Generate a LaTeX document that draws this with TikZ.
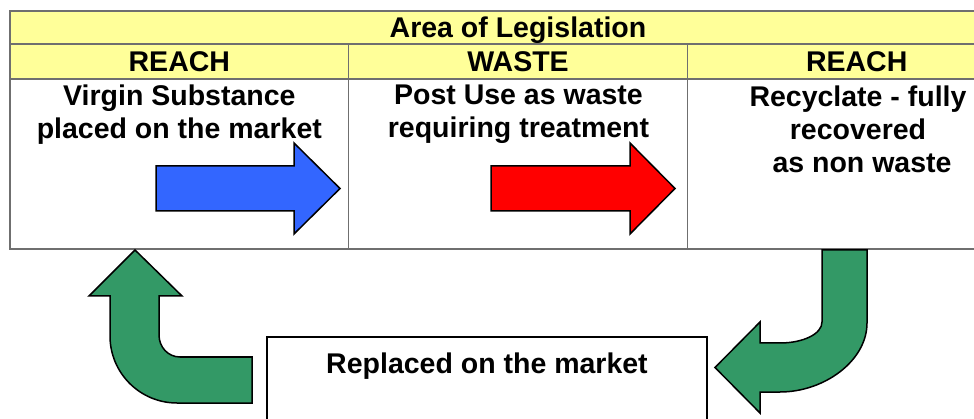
\documentclass[tikz,border=0pt]{standalone}
\usepackage{fontspec}
\setmainfont{Liberation Sans}
\definecolor{legyellow}{HTML}{FFFF99}
\definecolor{reachblue}{HTML}{3366FF}
\definecolor{wastered}{HTML}{FF0000}
\definecolor{loopgreen}{HTML}{339966}
\definecolor{rulegray}{HTML}{6F6F6F}
\tikzset{
  cell/.style={draw=rulegray, line width=1.2pt, rectangle, inner sep=0pt},
  head/.style={cell, fill=legyellow, text height=20.4pt, text depth=0pt, font=\bfseries\fontsize{28.5}{33}\selectfont},
  body/.style={align=center, inner sep=0pt, anchor=north, font=\bfseries\fontsize{28.5}{33}\selectfont},
  blockarrow/.style={draw=black, line width=1.5pt, line join=miter}
}
\begin{document}
\begin{tikzpicture}[x=1pt, y=-1pt]
\clip (0,0) rectangle (974,419);
\node at (518,27.5) [head, minimum width=1016pt, minimum height=33pt] (area) {Area of Legislation};
\node at (179.33,61.5) [head, minimum width=338.67pt, minimum height=35pt] (reachA) {REACH};
\node at (518,61.5) [head, minimum width=338.67pt, minimum height=35pt] (waste) {WASTE};
\node at (856.67,61.5) [head, minimum width=338.67pt, minimum height=35pt] (reachB) {REACH};
\node at (179.33,164) [cell, minimum width=338.67pt, minimum height=170pt] (virgin) {};
\node at (518,164) [cell, minimum width=338.67pt, minimum height=170pt] (postuse) {};
\node at (856.67,164) [cell, minimum width=338.67pt, minimum height=170pt] (recyc) {};
\node at (179.33,84.6) [body] (virgintxt) {Virgin Substance\\placed on the market};
\node at (518.5,84.6) [body] (postusetxt) {Post Use as waste\\requiring treatment};
\node at (858,85.6) [body] (recyctxt) {Recyclate - fully\\recovered\\\hspace*{8pt}as non waste};
\filldraw[blockarrow, fill=reachblue] (156,166) -- (294,166) -- (294,143) -- (340,188.5) -- (294,234) -- (294,211) -- (156,211) -- cycle;
\filldraw[blockarrow, fill=wastered] (491,166) -- (630,166) -- (630,143) -- (675,188.5) -- (630,234) -- (630,211) -- (491,211) -- cycle;
\node at (487,381) [draw, line width=2pt, rectangle, minimum width=440pt, minimum height=88pt] (replaced) {};
\node at (487,352.6) [body] (replacedtxt) {Replaced on the market};
\filldraw[blockarrow, fill=loopgreen] (822,250) -- (867,250) -- (867,323) .. controls (867,361) and (824,392) .. (780,392) -- (760,392) -- (760,413) -- (715,367.5) -- (760,322) -- (760,343) -- (780,343) .. controls (803,343) and (822,334) .. (822,322) -- cycle;
\filldraw[blockarrow, fill=loopgreen] (135,250) -- (182,296) -- (159,296) -- (159,335) .. controls (159,347) and (168,357) .. (180,357) -- (252,357) -- (252,403) -- (177,403) .. controls (140,403) and (110,373) .. (110,336) -- (110,296) -- (89,296) -- cycle;
\end{tikzpicture}
\end{document}
